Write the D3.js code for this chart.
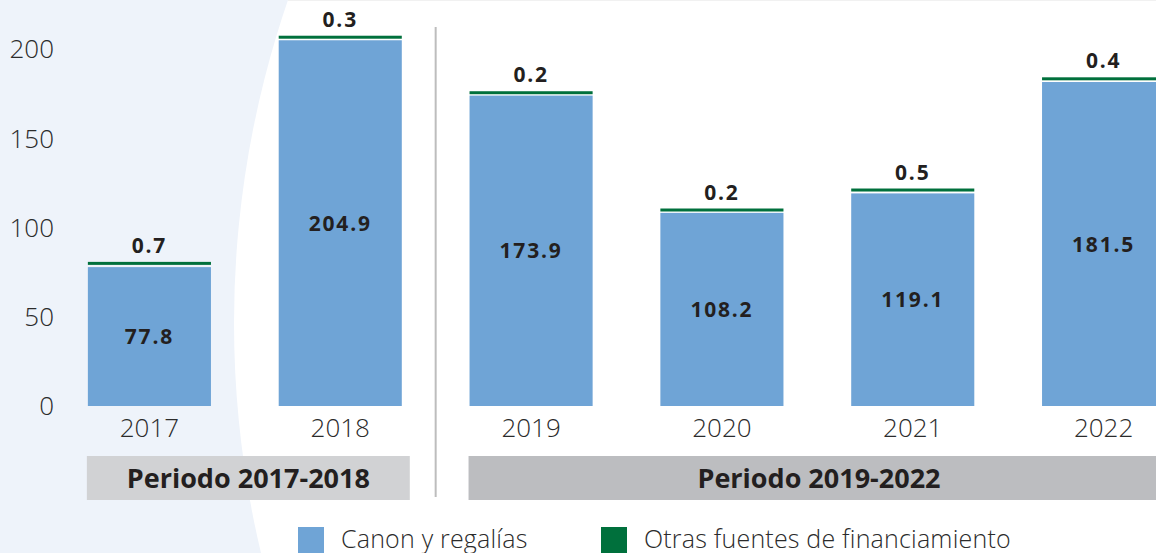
<!DOCTYPE html>
<html>
<head>
<meta charset="utf-8">
<script src="https://cdn.jsdelivr.net/npm/d3@7"></script>
<style>
	body { margin: 0; background: #fff; }
	svg { display: block; font-family: "Open Sans", "Noto Sans", sans-serif; }
	.tick-label { font-size: 26px; font-weight: 300; fill: #2b2b2b; }
	.val { font-size: 21px; font-weight: 700; fill: #231f20; letter-spacing: 1.8px; }
	.period { font-size: 27px; font-weight: 700; fill: #231f20; }
	.legend { font-size: 25px; font-weight: 300; fill: #2b2b2b; letter-spacing: 0.2px; }
</style>
</head>
<body>
<svg id="chart" width="1156" height="553"></svg>
<script>
// datos
const years = ["2017", "2018", "2019", "2020", "2021", "2022"];
const canon = [77.8, 204.9, 173.9, 108.2, 119.1, 181.5];
const otras = [0.7, 0.3, 0.2, 0.2, 0.5, 0.4];
const yTicks = [0, 50, 100, 150, 200];
const periodLabels = ["Periodo 2017-2018", "Periodo 2019-2022"];
const periodYears = [["2017", "2018"], ["2019", "2022"]];
const legendLabels = ["Canon y regalías", "Otras fuentes de financiamiento"];

const blue = "#6fa4d6", green = "#00703c";

const svg = d3.select("#chart");

// fondo celeste con borde curvo
svg.append("rect").attr("x", 0).attr("y", 0).attr("width", 320).attr("height", 553).attr("fill", "#eef3fa");
svg.append("circle").attr("cx", 1227).attr("cy", 323).attr("r", 993).attr("fill", "#fff");
svg.append("line").attr("x1", 288).attr("x2", 1156).attr("y1", 0.5).attr("y2", 0.5)
	.attr("stroke", "#f1f1f1").attr("stroke-width", 1);

const x = d3.scaleBand().domain(years).range([54, 1199]).paddingInner(0.355).paddingOuter(0.1775);
const y = d3.scaleLinear().domain([0, 200]).range([406, 49]);
const bw = x.bandwidth();

// eje y (solo etiquetas)
svg.append("g").selectAll("text").data(yTicks).join("text")
	.attr("class", "tick-label")
	.attr("x", 54).attr("y", d => y(d)).attr("dy", "0.36em")
	.attr("text-anchor", "end")
	.text(d => d);

// divisor entre periodos
const divX = (x("2018") + bw + x("2019")) / 2;
svg.append("line").attr("x1", divX).attr("x2", divX).attr("y1", 27).attr("y2", 497)
	.attr("stroke", "#bdbdbd").attr("stroke-width", 2);

const bars = svg.append("g");
years.forEach((yr, i) => {
	const x0 = x(yr);
	bars.append("rect").attr("x", x0).attr("width", bw)
		.attr("y", y(canon[i])).attr("height", y(0) - y(canon[i])).attr("fill", blue);
	// otras fuentes: linea fina sobre la barra
	const gTop = y(canon[i] + otras[i]) - 4;
	bars.append("rect").attr("x", x0).attr("width", bw)
		.attr("y", gTop).attr("height", 3).attr("fill", green);
	bars.append("text").attr("class", "val")
		.attr("x", x0 + bw / 2).attr("y", gTop - 9).attr("text-anchor", "middle")
		.text(otras[i].toFixed(1));
	bars.append("text").attr("class", "val")
		.attr("x", x0 + bw / 2).attr("y", (y(canon[i]) + y(0)) / 2).attr("dy", "0.36em")
		.attr("text-anchor", "middle")
		.text(canon[i].toFixed(1));
	bars.append("text").attr("class", "tick-label")
		.attr("x", x0 + bw / 2).attr("y", 437).attr("text-anchor", "middle")
		.text(yr);
});

// cajas de periodo
const boxFill = ["#d1d2d4", "#bcbdc0"];
periodLabels.forEach((lab, i) => {
	const a = x(periodYears[i][0]) - 1, b = x(periodYears[i][1]) + bw + 8;
	svg.append("rect").attr("x", a).attr("y", 456).attr("width", b - a).attr("height", 44)
		.attr("fill", boxFill[i]);
	svg.append("text").attr("class", "period")
		.attr("x", i === 0 ? (a + b) / 2 : 819).attr("y", 478).attr("dy", "0.36em")
		.attr("text-anchor", "middle").text(lab);
});

// leyenda
const legX = [298, 601];
const legCol = [blue, green];
legendLabels.forEach((lab, i) => {
	svg.append("rect").attr("x", legX[i]).attr("y", 527).attr("width", 26).attr("height", 26)
		.attr("fill", legCol[i]);
	svg.append("text").attr("class", "legend")
		.attr("x", legX[i] + 43).attr("y", 548).text(lab);
});
</script>
</body>
</html>
